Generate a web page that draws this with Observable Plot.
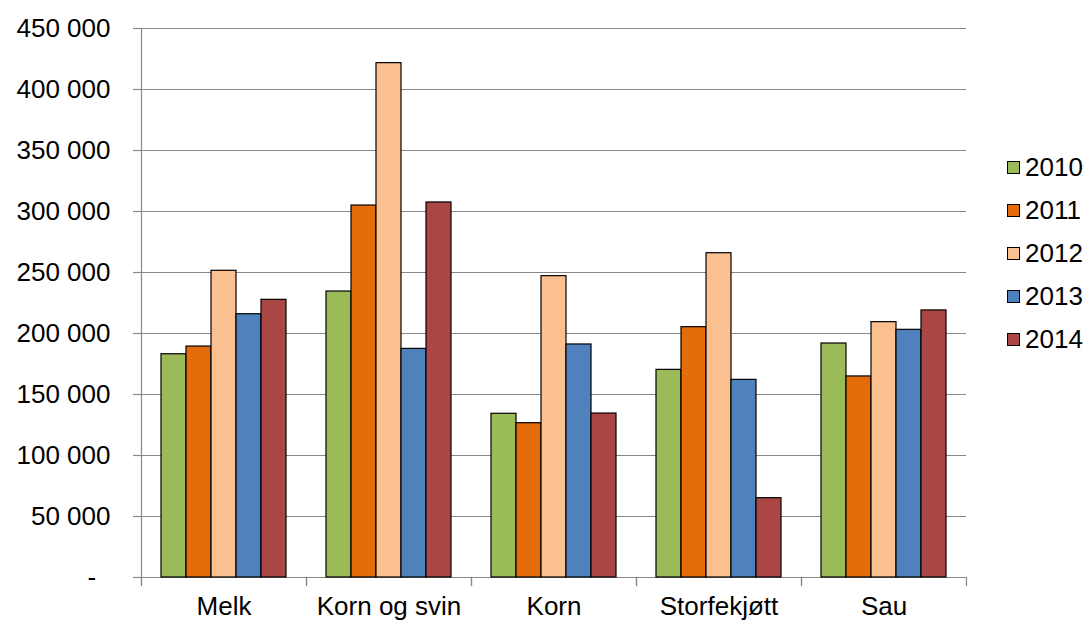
<!DOCTYPE html>
<html><head><meta charset="utf-8">
<script src="https://cdn.jsdelivr.net/npm/d3@7"></script>
<script src="https://cdn.jsdelivr.net/npm/@observablehq/plot@0.6"></script>
<style>
body{margin:0;background:#fff;font-family:"Liberation Sans",Arial,sans-serif;}
#wrap{position:relative;width:1086px;height:621px;overflow:hidden;}
#legend{position:absolute;left:1007px;top:146px;}
.row{display:flex;align-items:center;height:43px;font-size:26px;color:#000;}
.sw{width:11px;height:11px;border:1.5px solid #000;margin-right:5px;}
</style></head><body><div id="wrap"><div id="chart"></div><div id="legend"></div></div>
<script>
const categories = ["Melk", "Korn og svin", "Korn", "Storfekjøtt", "Sau"];
const years = ["2010", "2011", "2012", "2013", "2014"];
const colors = ["#9BBB59", "#E46C0A", "#FAC090", "#4F81BD", "#AA4643"];
const v2010 = [183000, 234400, 134200, 170200, 191800];
const v2011 = [189300, 304900, 126500, 205200, 164800];
const v2012 = [251400, 421600, 247000, 265800, 209300];
const v2013 = [215800, 187400, 191000, 162000, 203000];
const v2014 = [227600, 307400, 134400, 65000, 218900];
const yTicks = [0, 50000, 100000, 150000, 200000, 250000, 300000, 350000, 400000, 450000];

const series = [v2010, v2011, v2012, v2013, v2014];
const data = [];
categories.forEach((c, i) => years.forEach((y, j) => data.push({cat: c, year: y, value: series[j][i]})));

const fmt = d => d === 0 ? "-\u00a0\u00a0" : d3.format(",")(d).replace(/,/g, " ");

const W = 1086, H = 621, mT = 28, mB = 44, mL = 139, mR = 119;
const plotH = H - mT - mB;

const chart = Plot.plot({
  width: W, height: H,
  marginTop: mT, marginBottom: mB, marginLeft: mL, marginRight: mR,
  style: {fontFamily: "'Liberation Sans', Arial, sans-serif", fontSize: "26px", color: "#000", background: "#fff"},
  fx: {domain: categories, padding: 0, label: null},
  x: {type: "band", domain: years, paddingInner: 0, paddingOuter: 0.744, axis: null},
  y: {domain: [0, 450000], label: null},
  color: {domain: years, range: colors},
  marks: [
    Plot.gridY(yTicks, {stroke: "#888", strokeOpacity: 1, strokeWidth: 1.2}),
    Plot.frame({anchor: "left", facetAnchor: "left", stroke: "#888", strokeWidth: 1.2, insetBottom: -8}),
    Plot.frame({anchor: "left", stroke: "#888", strokeWidth: 1.2, insetTop: plotH, insetBottom: -8}),
    Plot.frame({anchor: "right", stroke: "#888", strokeWidth: 1.2, insetTop: plotH, insetBottom: -8}),
    Plot.barY(data, {fx: "cat", x: "year", y: "value", fill: "year", stroke: "#000", strokeWidth: 1.2}),
    Plot.axisY(yTicks, {tickSize: 8, tickPadding: 23, stroke: "#888", strokeWidth: 1.2, fill: "#000", tickFormat: fmt, fontSize: 26, label: null}),
    Plot.axisFx({anchor: "bottom", tickSize: 0, tickPadding: 19, fontSize: 26, fill: "#000", label: null})
  ]
});
document.getElementById("chart").appendChild(chart);

const leg = document.getElementById("legend");
years.forEach((y, i) => {
  const row = document.createElement("div");
  row.className = "row";
  const sw = document.createElement("div");
  sw.className = "sw";
  sw.style.background = colors[i];
  const t = document.createElement("span");
  t.textContent = y;
  row.appendChild(sw); row.appendChild(t);
  leg.appendChild(row);
});
</script>
</body></html>
